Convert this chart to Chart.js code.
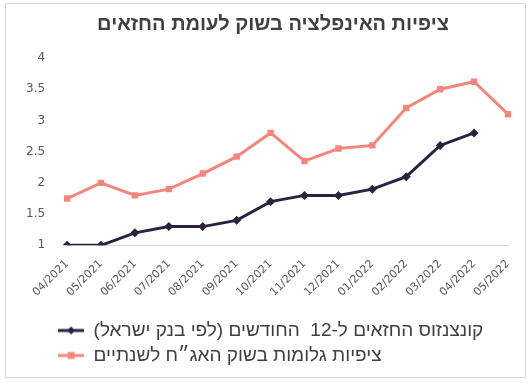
<!DOCTYPE html>
<html lang="he">
<head>
<meta charset="utf-8">
<title>ציפיות האינפלציה בשוק לעומת החזאים</title>
<script src="https://cdn.jsdelivr.net/npm/chart.js@4.4.1/dist/chart.umd.min.js"></script>
<style>
    html, body {
        margin: 0;
        padding: 0;
        background: #ffffff;
    }
    #frame {
        position: absolute;
        left: 5px;
        top: 3px;
        width: 521px;
        height: 375px;
        box-sizing: border-box;
        border: 1px solid #d9d9d9;
        background: #ffffff;
    }
    #frame .inner {
        position: relative;
        width: 100%;
        height: 100%;
    }
</style>
</head>
<body>
<div id="frame">
    <div class="inner">
        <canvas id="inflation-chart"></canvas>
    </div>
</div>
<script>
// Months on the category axis
const months = [
    '04/2021', '05/2021', '06/2021', '07/2021', '08/2021', '09/2021', '10/2021',
    '11/2021', '12/2021', '01/2022', '02/2022', '03/2022', '04/2022', '05/2022'
];

// Forecasters' consensus for the next 12 months (Bank of Israel), %
const forecastConsensus = [1.0, 1.0, 1.2, 1.3, 1.3, 1.4, 1.7, 1.8, 1.8, 1.9, 2.1, 2.6, 2.8, null];

// Implied two-year expectations from the bond market, %
const bondImplied = [1.75, 2.0, 1.8, 1.9, 2.15, 2.42, 2.8, 2.35, 2.55, 2.6, 3.2, 3.5, 3.62, 3.1];

const seriesNames = [
    'קונצנזוס החזאים ל-12  החודשים (לפי בנק ישראל)',
    'ציפיות גלומות בשוק האג״ח לשנתיים'
];

const yTicks = [1, 1.5, 2, 2.5, 3, 3.5, 4];

const darkLine = '#2d2140';
const salmonLine = '#f4867e';
// Hebrew text uses Liberation Sans, numbers DejaVu Sans
const hebrewFont = '"Liberation Sans", Arial, sans-serif';
const numberFont = '"DejaVu Sans", "Liberation Sans", sans-serif';

/**
 * Small canvas used as a legend icon: a short line with the series marker
 * @param {string} color - line and marker colour
 * @param {string} marker - 'diamond' or 'square'
 */
function legendIcon(color, marker) {
    const icon = document.createElement('canvas');
    icon.width = 26;
    icon.height = 10;
    const c = icon.getContext('2d');
    c.strokeStyle = color;
    c.lineWidth = 3;
    c.beginPath();
    c.moveTo(0, 5);
    c.lineTo(26, 5);
    c.stroke();
    c.fillStyle = color;
    if (marker === 'diamond') {
        c.beginPath();
        c.moveTo(13, 1);
        c.lineTo(17, 5);
        c.lineTo(13, 9);
        c.lineTo(9, 5);
        c.closePath();
        c.fill();
    } else {
        c.fillRect(9.5, 1.5, 7, 7);
    }
    return icon;
}

const legendIcons = [legendIcon(darkLine, 'diamond'), legendIcon(salmonLine, 'square')];

// Nudges the title and the bottom legend after layout
const boxShift = {
    id: 'boxShift',
    afterLayout(chart, args, opts) {
        const shift = (box, dx, dy) => {
            if (!box) return;
            box.left += dx;
            box.right += dx;
            box.top += dy;
            box.bottom += dy;
        };
        shift(chart.titleBlock, opts.titleDx, 0);
        shift(chart.legend, opts.legendDx, opts.legendDy);
    }
};

const ctx = document.getElementById('inflation-chart');

new Chart(ctx, {
    type: 'line',
    data: {
        labels: months,
        datasets: [{
            label: seriesNames[0],
            data: forecastConsensus,
            borderColor: darkLine,
            backgroundColor: darkLine,
            borderWidth: 3,
            pointStyle: 'rectRot',
            pointRadius: 4.5,
            pointBorderWidth: 0,
            tension: 0,
            spanGaps: false
        }, {
            label: seriesNames[1],
            data: bondImplied,
            borderColor: salmonLine,
            backgroundColor: salmonLine,
            borderWidth: 3,
            pointStyle: 'rect',
            pointRadius: 4.5,
            pointBorderWidth: 0,
            tension: 0
        }]
    },
    options: {
        responsive: true,
        maintainAspectRatio: false,
        animation: false,
        layout: {
            padding: { left: 6, right: 17, top: 0, bottom: 14 }
        },
        plugins: {
            title: {
                display: true,
                text: 'ציפיות האינפלציה בשוק לעומת החזאים',
                color: '#404040',
                font: { family: hebrewFont, size: 20, weight: 'bold' },
                padding: { top: 8, bottom: 22 }
            },
            legend: {
                position: 'bottom',
                align: 'start',
                fullSize: false,
                textDirection: 'rtl',
                labels: {
                    color: '#404040',
                    font: { family: hebrewFont, size: 19 },
                    usePointStyle: true,
                    pointStyleWidth: 26,
                    padding: 6,
                    generateLabels(chart) {
                        return chart.data.datasets.map((ds, i) => ({
                            text: ds.label,
                            pointStyle: legendIcons[i],
                            fontColor: '#404040',
                            lineWidth: 0,
                            hidden: false,
                            datasetIndex: i
                        }));
                    }
                }
            },
            boxShift: { titleDx: 13, legendDx: -15, legendDy: 12 },
            tooltip: { enabled: false }
        },
        scales: {
            x: {
                offset: false,
                grid: { display: false },
                border: { display: true, color: '#d9d9d9', width: 1 },
                ticks: {
                    color: '#595959',
                    font: { family: numberFont, size: 11 },
                    minRotation: 45,
                    maxRotation: 45,
                    autoSkip: false,
                    padding: 4
                }
            },
            y: {
                min: yTicks[0],
                max: yTicks[yTicks.length - 1],
                grid: { display: false },
                border: { display: false },
                afterBuildTicks(axis) {
                    axis.ticks = yTicks.map(v => ({ value: v }));
                },
                ticks: {
                    color: '#595959',
                    font: { family: numberFont, size: 12 },
                    padding: 14,
                    callback: value => String(value)
                }
            }
        }
    },
    plugins: [boxShift]
});
</script>
</body>
</html>
